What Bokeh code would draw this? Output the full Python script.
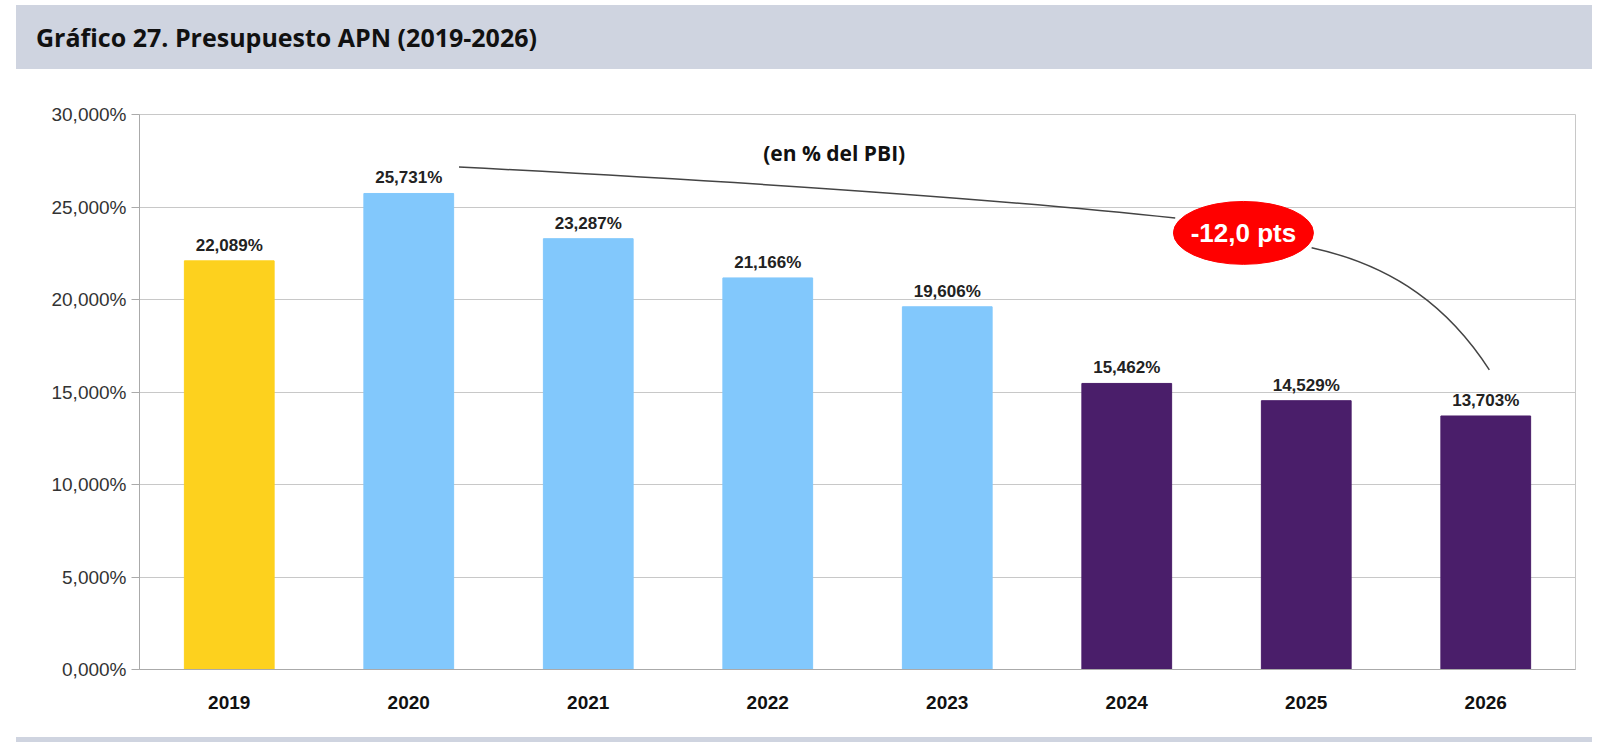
from bokeh.plotting import figure
from bokeh.models import Div, ColumnDataSource, FixedTicker, CustomJSTickFormatter, Range1d
from bokeh.layouts import column
from bokeh.core.properties import value
from bokeh.embed import file_html
from bokeh.resources import INLINE

years = ["2019", "2020", "2021", "2022", "2023", "2024", "2025", "2026"]
values = [22.089, 25.731, 23.287, 21.166, 19.606, 15.462, 14.529, 13.703]
labels = ["22,089%", "25,731%", "23,287%", "21,166%", "19,606%", "15,462%", "14,529%", "13,703%"]
colors = ["#FDD11E", "#82C8FC", "#82C8FC", "#82C8FC", "#82C8FC", "#4A1E6A", "#4A1E6A", "#4A1E6A"]
y_ticks = [0, 5, 10, 15, 20, 25, 30]

xs = list(range(1, len(years) + 1))
src = ColumnDataSource(dict(x=xs, top=values, color=colors, label=labels))

title = Div(text="Gráfico 27. Presupuesto APN (2019-2026)", width=1580, height=64,
            styles={"background-color": "#cfd4e0", "font-family": "Open Sans", "font-weight": "bold",
                    "font-size": "25px", "color": "#111", "padding-left": "20px", "line-height": "64px",
                    "margin-left": "16px", "width": "1576px", "height": "64px", "box-sizing": "border-box"})

p = figure(width=1601, height=658, output_backend="svg", toolbar_location=None,
           x_range=Range1d(0.5, 8.5), y_range=Range1d(0, 30),
           min_border_left=139, min_border_right=26, min_border_top=40, min_border_bottom=63)
p.vbar(x="x", top="top", width=0.5, color="color", source=src)
p.text(x="x", y="top", text="label", source=src, text_align="center", text_baseline="bottom",
       y_offset=-6, text_font=value("Liberation Sans"), text_font_style="bold", text_font_size="17px",
       text_color="#222")

p.xaxis.ticker = FixedTicker(ticks=xs)
p.xaxis.major_label_overrides = {x: y for x, y in zip(xs, years)}
p.xaxis.major_label_text_font = "Liberation Sans"
p.xaxis.major_label_text_font_style = "bold"
p.xaxis.major_label_text_font_size = "19px"
p.xaxis.major_label_text_color = "#111"
p.xaxis.major_tick_line_color = None
p.xaxis.minor_tick_line_color = None
p.xaxis.axis_line_color = "#aaaaaa"
p.xaxis.major_label_standoff = 20
p.xgrid.grid_line_color = None

p.yaxis.ticker = FixedTicker(ticks=y_ticks)
p.yaxis.formatter = CustomJSTickFormatter(code="return tick.toFixed(3).replace('.', ',') + '%';")
p.yaxis.major_label_text_font = "Liberation Sans"
p.yaxis.major_label_text_font_size = "19px"
p.yaxis.major_label_text_color = "#333"
p.yaxis.axis_line_color = "#aaaaaa"
p.yaxis.major_tick_line_color = "#aaaaaa"
p.yaxis.major_tick_in = 0
p.yaxis.major_tick_out = 8
p.yaxis.minor_tick_line_color = None
p.ygrid.grid_line_color = "#c8c8c8"
p.outline_line_color = "#c8c8c8"

p.text(x=[4.37], y=[27.9], text=["(en % del PBI)"], text_align="center", text_baseline="middle",
       text_font=value("Open Sans"), text_font_style="bold", text_font_size="21px", text_color="#111")

p.bezier(x0=[2.28], y0=[27.16], x1=[6.27], y1=[24.4], cx0=[4.2], cy0=[26.2], cx1=[5.5], cy1=[25.2],
         line_color="#444", line_width=1.5)
p.bezier(x0=[7.03], y0=[22.8], x1=[8.02], y1=[16.2], cx0=[7.5], cy0=[21.8], cx1=[7.8], cy1=[19.5],
         line_color="#444", line_width=1.5)
p.ellipse(x=[6.65], y=[23.6], width=0.78, height=3.4, fill_color="#FF0000", line_color="#FF0000")
p.text(x=[6.65], y=[23.6], text=["-12,0 pts"], text_align="center", text_baseline="middle",
       text_font=value("Liberation Sans"), text_font_style="bold", text_font_size="26px", text_color="white")

bottom = Div(text="", width=1580, height=12,
             styles={"background-color": "#cfd4e0", "margin-left": "16px", "width": "1576px", "height": "12px"})

layout = column(title, p, bottom, spacing=0)
open("out.html", "w").write(file_html(layout, INLINE))
